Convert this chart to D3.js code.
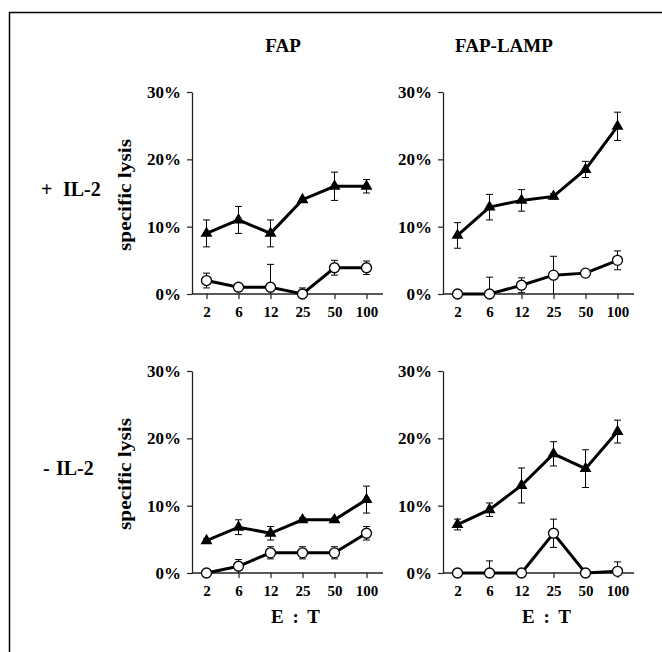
<!DOCTYPE html>
<html>
<head>
<meta charset="utf-8">
<script src="https://cdnjs.cloudflare.com/ajax/libs/d3/7.8.5/d3.min.js"></script>
<style>
body { margin: 0; background: #fff; }
svg text { font-family: "Liberation Serif", "DejaVu Serif", Times, serif; font-weight: bold; fill: #000; }
</style>
</head>
<body>
<svg id="chart" width="662" height="652"></svg>
<script>
// E:T ratios on the x axis
var ratios = ["2", "6", "12", "25", "50", "100"];
var columns = ["FAP", "FAP-LAMP"];
var rowSigns = ["+", "-"];
var rowNames = ["IL-2", "IL-2"];
var yTicks = [0, 10, 20, 30];

// filled triangles / open circles, % specific lysis and error
var triFapPlus = [9, 11, 9, 14, 16, 16];
var triFapPlusErr = [2, 2, 2, 0, 2.1, 1];
var circFapPlus = [2, 1, 1, 0, 3.9, 3.9];
var circFapPlusErr = [1.1, 0, 3.4, 0.9, 1.1, 1];

var triLampPlus = [8.7, 12.9, 13.9, 14.5, 18.5, 24.9];
var triLampPlusErr = [1.9, 1.9, 1.6, 0.4, 1.2, 2.1];
var circLampPlus = [0, 0, 1.3, 2.8, 3.1, 5.0];
var circLampPlusErr = [0, 2.5, 1.1, 2.8, 0.3, 1.4];

var triFapMinus = [4.8, 6.8, 5.9, 7.9, 7.9, 10.9];
var triFapMinusErr = [0.3, 1.1, 1.0, 0.3, 0.3, 2.0];
var circFapMinus = [0, 1.0, 3.0, 3.0, 3.0, 5.9];
var circFapMinusErr = [0, 1, 0.9, 0.9, 0.9, 1.0];

var triLampMinus = [7.2, 9.4, 13.0, 17.7, 15.5, 21.0];
var triLampMinusErr = [0.8, 1.0, 2.6, 1.8, 2.8, 1.7];
var circLampMinus = [0, 0, 0, 5.9, 0, 0.25];
var circLampMinusErr = [0, 1.8, 0, 2.1, 0, 1.4];

var panels = [
  { row: 0, col: 0, tri: triFapPlus, triErr: triFapPlusErr, circ: circFapPlus, circErr: circFapPlusErr },
  { row: 0, col: 1, tri: triLampPlus, triErr: triLampPlusErr, circ: circLampPlus, circErr: circLampPlusErr },
  { row: 1, col: 0, tri: triFapMinus, triErr: triFapMinusErr, circ: circFapMinus, circErr: circFapMinusErr },
  { row: 1, col: 1, tri: triLampMinus, triErr: triLampMinusErr, circ: circLampMinus, circErr: circLampMinusErr }
];

var serif = "'Liberation Serif', 'DejaVu Serif', Times, serif";
var svg = d3.select("#chart");

// frame (runs off the right/bottom edge like the scan)
svg.append("rect")
  .attr("x", 9.5).attr("y", 12.5)
  .attr("width", 700).attr("height", 700)
  .attr("fill", "none").attr("stroke", "#000").attr("stroke-width", 1.5);

var colX = [192, 443];
var rowBase = [294, 573];
var titleX = [283, 504];
var plotH = 202;
var axisW = 191;

// column titles
svg.selectAll(".coltitle")
  .data(columns)
  .enter()
  .append("text")
  .attr("class", "coltitle")
  .attr("x", function(d, i) { return titleX[i]; })
  .attr("y", 52)
  .attr("text-anchor", "middle")
  .style("font-family", serif)
  .style("font-size", "19px")
  .text(function(d) { return d; });

// row labels: sign and name placed apart like the original
var rowLab = svg.selectAll(".rowlabel")
  .data(rowSigns)
  .enter()
  .append("text")
  .attr("class", "rowlabel")
  .attr("y", function(d, i) { return rowBase[i] - 98; })
  .style("font-family", serif)
  .style("font-size", "20px");
rowLab.append("tspan")
  .attr("x", function(d, i) { return i === 0 ? 41 : 43; })
  .text(function(d) { return d; });
rowLab.append("tspan")
  .attr("x", function(d, i) { return i === 0 ? 63 : 56; })
  .text(function(d, i) { return rowNames[i]; });

panels.forEach(function(p) {
  var x0 = colX[p.col];
  var base = rowBase[p.row];
  var g = svg.append("g");

  var x = d3.scalePoint()
    .domain(ratios)
    .range([x0 + 14.5, x0 + 174.5]);

  var y = d3.scaleLinear()
    .domain([0, 30])
    .range([base, base - plotH]);

  // x axis
  var xg = g.append("g")
    .attr("transform", "translate(0," + base + ")")
    .call(d3.axisBottom(x).tickSize(5).tickPadding(7).tickSizeOuter(0));
  xg.select(".domain").remove();
  xg.append("line")
    .attr("x1", x0).attr("x2", x0 + axisW)
    .attr("stroke", "#222").attr("stroke-width", 1.3);
  xg.selectAll(".tick line").attr("stroke", "#222").attr("stroke-width", 1.2);
  xg.selectAll("text").style("font-size", "15px").attr("fill", "#000")
    .style("font-family", serif).style("font-weight", "bold");

  // y axis
  var yg = g.append("g")
    .attr("transform", "translate(" + x0 + ",0)")
    .call(d3.axisLeft(y).tickValues(yTicks).tickFormat(function(d) { return d + "%"; })
      .tickSize(5).tickPadding(6).tickSizeOuter(0));
  yg.select(".domain").attr("stroke", "#222").attr("stroke-width", 1.3);
  yg.selectAll(".tick line").attr("stroke", "#222").attr("stroke-width", 1.2);
  yg.selectAll("text").style("font-size", "17px").attr("fill", "#000")
    .style("font-family", serif).style("font-weight", "bold");

  if (p.col === 0) {
    g.append("text")
      .attr("transform", "translate(131," + (base - 99) + ") rotate(-90)")
      .attr("text-anchor", "middle")
      .attr("textLength", 112)
      .attr("lengthAdjust", "spacingAndGlyphs")
      .style("font-family", serif)
      .style("font-size", "18px")
      .text("specific lysis");
  }

  // E : T label on the bottom row
  if (p.row === 1) {
    g.append("text")
      .attr("x", x0 + 79)
      .attr("y", base + 50)
      .attr("xml:space", "preserve")
      .attr("textLength", 49)
      .attr("lengthAdjust", "spacing")
      .style("font-family", serif)
      .style("font-size", "19px")
      .text("E : T");
  }

  [{ v: p.tri, e: p.triErr }, { v: p.circ, e: p.circErr }].forEach(function(s, si) {
    var pts = ratios.map(function(r, i) { return { r: r, v: s.v[i], e: s.e[i] }; });

    // error bars
    var eb = g.append("g").attr("stroke", "#000").attr("stroke-width", 1);
    pts.forEach(function(d) {
      if (d.e <= 0) return;
      var cx = x(d.r);
      var hi = d.v + d.e;
      var lo = Math.max(0, d.v - d.e);
      eb.append("line").attr("x1", cx).attr("x2", cx).attr("y1", y(hi)).attr("y2", y(lo));
      eb.append("line").attr("x1", cx - 3.5).attr("x2", cx + 3.5).attr("y1", y(hi)).attr("y2", y(hi));
      if (d.v - d.e > 0) {
        eb.append("line").attr("x1", cx - 3.5).attr("x2", cx + 3.5).attr("y1", y(lo)).attr("y2", y(lo));
      }
    });

    // connecting line
    g.append("path")
      .datum(pts)
      .attr("fill", "none")
      .attr("stroke", "#000")
      .attr("stroke-width", 3)
      .attr("d", d3.line().x(function(d) { return x(d.r); }).y(function(d) { return y(d.v); }));

    if (si === 0) {
      g.selectAll(".tri" + p.row + p.col)
        .data(pts)
        .enter()
        .append("path")
        .attr("d", d3.symbol().type(d3.symbolTriangle).size(62))
        .attr("transform", function(d) { return "translate(" + x(d.r) + "," + y(d.v) + ")"; })
        .attr("fill", "#000");
    } else {
      g.selectAll(".circ" + p.row + p.col)
        .data(pts)
        .enter()
        .append("circle")
        .attr("cx", function(d) { return x(d.r); })
        .attr("cy", function(d) { return y(d.v); })
        .attr("r", 5)
        .attr("fill", "#fff")
        .attr("stroke", "#000")
        .attr("stroke-width", 1.3);
    }
  });
});
</script>
</body>
</html>
